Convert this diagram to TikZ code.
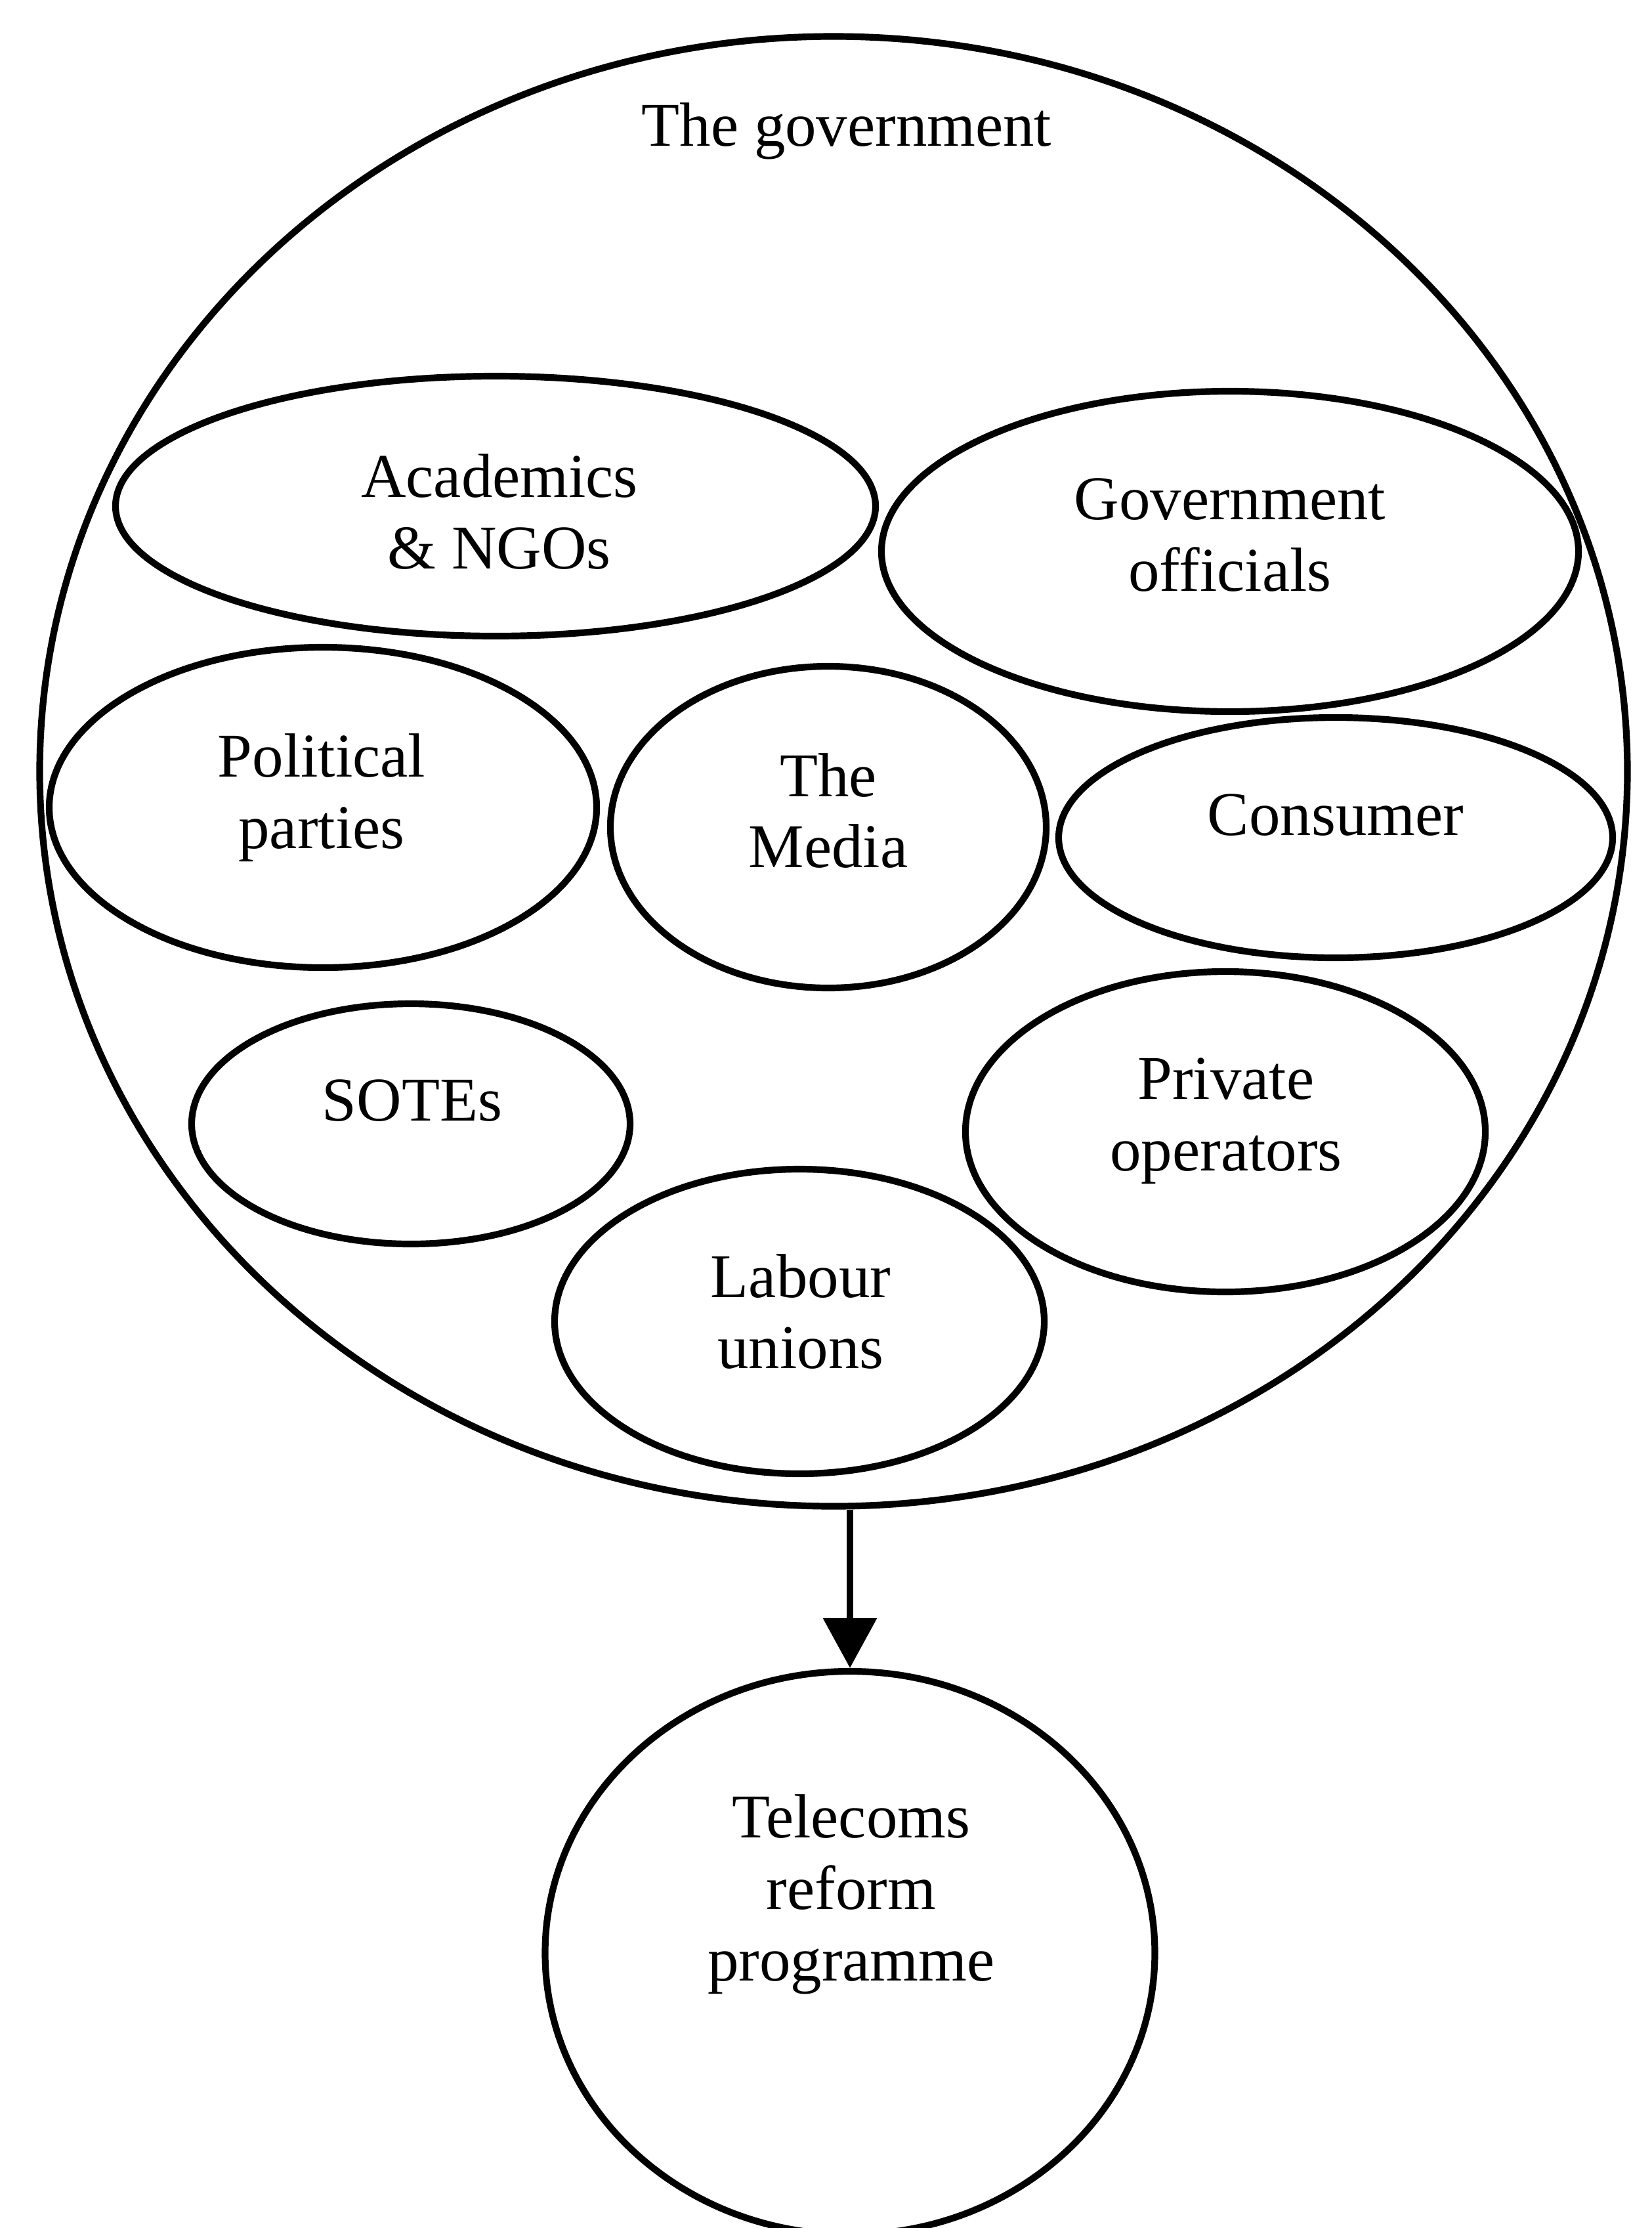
\documentclass[tikz,border=0pt]{standalone}
\usepackage{fontspec}
\setmainfont{Liberation Serif}
\usetikzlibrary{shapes.geometric,arrows.meta}
\tikzset{grp/.append style={draw, ellipse, line width=2.9pt, inner sep=0pt},
         lbl/.append style={align=center, inner sep=0pt, font=\fontsize{27}{31}\selectfont}}

\begin{document}
\begin{tikzpicture}
                \useasboundingbox (0,0) rectangle (25.17,-33.94);
                % outer group and result
                \node[grp, minimum width=24.19cm, minimum height=22.39cm] (gov) at (12.70,-11.75) {};
                \node[grp, minimum width=9.29cm, minimum height=8.58cm] (reform) at (12.95,-29.75) {};
                % actors
                \node[grp, minimum width=11.58cm, minimum height=3.96cm] (acad) at (7.55,-7.71) {};
                \node[grp, minimum width=10.62cm, minimum height=4.88cm] (off) at (18.74,-8.40) {};
                \node[grp, minimum width=8.34cm, minimum height=4.88cm] (pol) at (4.92,-12.30) {};
                \node[grp, minimum width=6.64cm, minimum height=4.90cm] (media) at (12.62,-12.60) {};
                \node[grp, minimum width=8.44cm, minimum height=3.66cm] (cons) at (20.35,-12.76) {};
                \node[grp, minimum width=6.68cm, minimum height=3.66cm] (sote) at (6.26,-17.12) {};
                \node[grp, minimum width=7.92cm, minimum height=4.88cm] (priv) at (18.67,-17.24) {};
                \node[grp, minimum width=7.46cm, minimum height=4.64cm] (lab) at (12.18,-20.13) {};
                % texts
                \node[lbl] (govt) at (12.90,-2.00) {The government};
                \node[lbl] (acadt) at (7.61,-7.80) {Academics\\\& NGOs};
                \node[lbl] (offt) at (18.74,-8.15) {Government\\officials};
                \node[lbl] (polt) at (4.90,-12.15) {Political\\parties};
                \node[lbl] (mediat) at (12.62,-12.35) {The\\Media};
                \node[lbl] (const) at (20.35,-12.42) {Consumer};
                \node[lbl] (sotet) at (6.28,-16.77) {SOTEs};
                \node[lbl] (privt) at (18.68,-17.08) {Private\\operators};
                \node[lbl] (labt) at (12.20,-19.98) {Labour\\unions};
                \node[lbl] (reformt) at (12.97,-28.86) {Telecoms\\reform\\programme};
                \path (gov.south -| reform.north) edge[line width=2.9pt, -{Triangle[length=0.76cm, width=0.8cm]}] (reform.north);
            \end{tikzpicture}
\end{document}
